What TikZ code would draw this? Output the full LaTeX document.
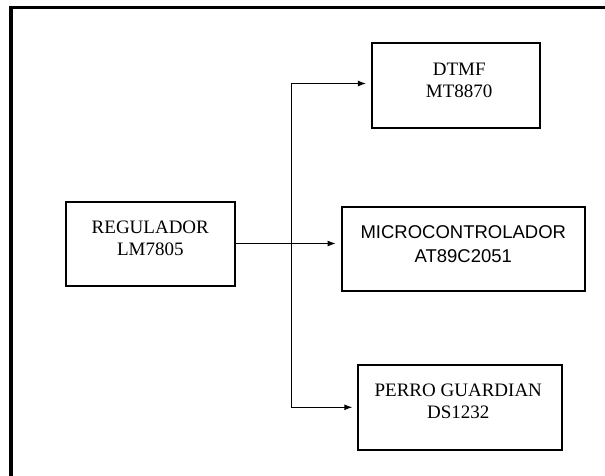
\documentclass[tikz,border=0pt]{standalone}
\usepackage{fontspec}
\setmainfont{Liberation Serif}
\setsansfont{Liberation Sans}
\usetikzlibrary{arrows.meta}

\tikzset{
  block/.style={draw, line width=2pt, inner sep=0pt},
  txtrm/.style={align=center, inner sep=0pt, font=\fontsize{19}{22}\selectfont},
  txtsf/.style={align=center, inner sep=0pt, font=\sffamily\fontsize{18.5}{24}\selectfont},
  feed/.style={line width=1pt, -{Latex[length=8pt,width=6pt]}, shorten >=5pt}
}

\begin{document}
\begin{tikzpicture}[x=1pt,y=-1pt]
\useasboundingbox (0,0) rectangle (605,475);

% Outer frame (runs off the page right and bottom)
\draw[line width=3.2pt] (11,500) -- (11,7.5) -- (620,7.5);

% Draw the blocks
\node[block, minimum width=168.5, minimum height=84] (reg) at (150.3,243.5) {};
\node[txtrm] (regtxt) at ([yshift=5pt]reg.center) {REGULADOR\\LM7805};

\node[block, minimum width=168.5, minimum height=84.4] (dtmf) at (456.2,85.5) {};
\node[txtrm] (dtmftxt) at ([xshift=3pt,yshift=5.5pt]dtmf.center) {DTMF\\MT8870};

\node[block, minimum width=243.5, minimum height=83.4] (micro) at (463.3,249) {};
\node[txtsf] (microtxt) at ([yshift=4.6pt]micro.center) {MICROCONTROLADOR\\AT89C2051};

\node[block, minimum width=204, minimum height=84.7] (perro) at (460.3,407.3) {};
\node[txtrm] (perrotxt) at ([xshift=-2pt,yshift=6pt]perro.center) {PERRO GUARDIAN\\DS1232};

% Draw the feed lines
\coordinate (bus) at ([xshift=56pt]reg.east);
\draw[feed] (reg.east) -- (reg.east -| micro.west);
\draw[feed] (bus) |- ([yshift=2pt]dtmf.west);
\draw[feed] (bus) |- (perro.west);

\end{tikzpicture}
\end{document}
